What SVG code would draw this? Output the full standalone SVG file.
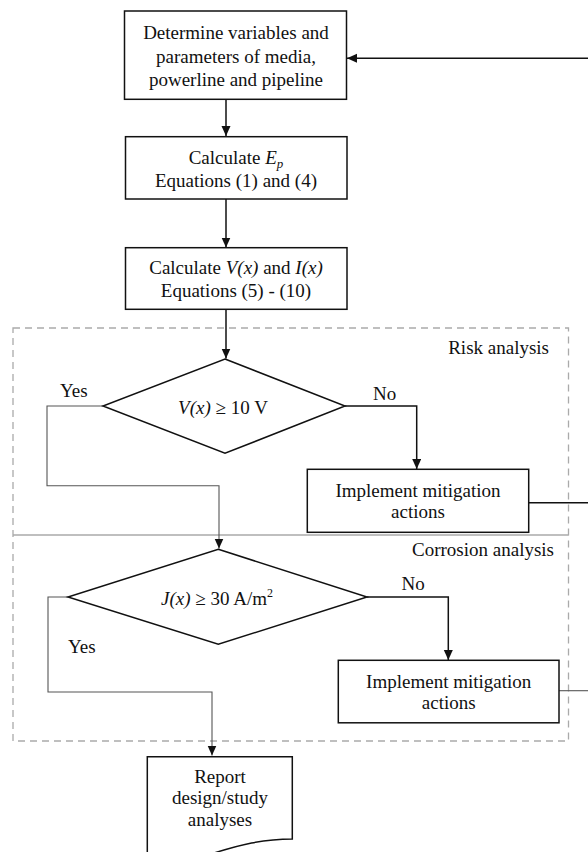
<svg xmlns="http://www.w3.org/2000/svg" width="588" height="852" viewBox="0 0 588 852" font-family="'Liberation Serif', 'Times New Roman', serif">
<style>
text{font-family:'Liberation Serif','Times New Roman',serif;font-size:19px;fill:#111;text-anchor:middle}
.lab{text-anchor:start}
.end{text-anchor:end}
.box{fill:#fff;stroke:#111;stroke-width:1.5}
.c{fill:none;stroke:#111;stroke-width:1.5}
.g{fill:none;stroke:#555;stroke-width:1.1}
.frame{fill:none;stroke:#aaa;stroke-width:1.3;stroke-dasharray:7,5}
.sep{stroke:#aaa;stroke-width:1.6}
</style>
<defs>
<marker id="ah" markerWidth="12" markerHeight="10" refX="10" refY="4.5" orient="auto" markerUnits="userSpaceOnUse">
<path d="M0,0 L10,4.5 L0,9 Z" fill="#111"/>
</marker>
</defs>
<g id="frames">
<rect class="frame" x="13" y="328" width="555.5" height="413"/>
<line class="sep" x1="13" y1="535" x2="568.5" y2="535"/>
<text class="end" x="549" y="354">Risk analysis</text>
<text class="end" x="554" y="556">Corrosion analysis</text>
</g>
<g id="connectors">
<line class="c" x1="588" y1="58.3" x2="347" y2="58.3" marker-end="url(#ah)"/>
<line class="c" x1="226" y1="99" x2="226" y2="136" marker-end="url(#ah)"/>
<line class="c" x1="226" y1="199" x2="226" y2="247.5" marker-end="url(#ah)"/>
<line class="c" x1="226" y1="309" x2="226" y2="358.5" marker-end="url(#ah)"/>
<polyline class="c" points="345,406 416.7,406 416.7,469" marker-end="url(#ah)"/>
<polyline class="g" points="103,406 47,406 47,485.7 219,485.7 219,548.5" marker-end="url(#ah)"/>
<line class="c" x1="528.7" y1="502.7" x2="588" y2="502.7"/>
<polyline class="c" points="367,597 448.3,597 448.3,660" marker-end="url(#ah)"/>
<polyline class="g" points="68,597 48,597 48,692 212,692 212,755.5" marker-end="url(#ah)"/>
<line class="g" x1="559" y1="690.7" x2="588" y2="690.7"/>
<text class="lab" x="60" y="397">Yes</text>
<text class="lab" x="373" y="399.5">No</text>
<text class="lab" x="401.5" y="590">No</text>
<text class="lab" x="68" y="652.5">Yes</text>
</g>
<g id="determine">
<rect class="box" x="124.5" y="11" width="222" height="88.3"/>
<text x="236" y="39.3">Determine variables and</text>
<text x="236" y="63">parameters of media,</text>
<text x="236" y="86">powerline and pipeline</text>
</g>
<g id="calc-ep">
<rect class="box" x="125.5" y="136.7" width="221.5" height="62.3"/>
<text x="236" y="164">Calculate <tspan font-style="italic">E</tspan><tspan font-style="italic" font-size="13" dy="4">p</tspan></text>
<text x="236" y="187">Equations (1) and (4)</text>
</g>
<g id="calc-vi">
<rect class="box" x="125.5" y="247.7" width="221.5" height="61.6"/>
<text x="236" y="274">Calculate <tspan font-style="italic">V(x)</tspan> and <tspan font-style="italic">I(x)</tspan></text>
<text x="236" y="297.3">Equations (5) - (10)</text>
</g>
<g id="decision-v">
<polygon class="box" points="225,359 345,406 225,453.3 103,406"/>
<text x="223" y="413.5"><tspan font-style="italic">V(x)</tspan> ≥ 10 V</text>
</g>
<g id="mitigate-1">
<rect class="box" x="307.3" y="469.3" width="221.4" height="63"/>
<text x="418" y="496.7">Implement mitigation</text>
<text x="418" y="518.3">actions</text>
</g>
<g id="decision-j">
<polygon class="box" points="218.3,549.3 367,597 218.3,644.3 68,597"/>
<text x="217" y="605"><tspan font-style="italic">J(x)</tspan> ≥ 30 A/m<tspan font-size="12" dy="-8">2</tspan></text>
</g>
<g id="mitigate-2">
<rect class="box" x="338.3" y="660.3" width="220.7" height="62.5"/>
<text x="448.7" y="687.7">Implement mitigation</text>
<text x="448.7" y="709.3">actions</text>
</g>
<g id="report">
<path class="box" d="M147.3,853 L147.3,756.7 L292.3,756.7 L292.3,839 C262,839 240,845 214,853"/>
<text x="220" y="783.3">Report</text>
<text x="220" y="804">design/study</text>
<text x="220" y="825.7">analyses</text>
</g>
</svg>
